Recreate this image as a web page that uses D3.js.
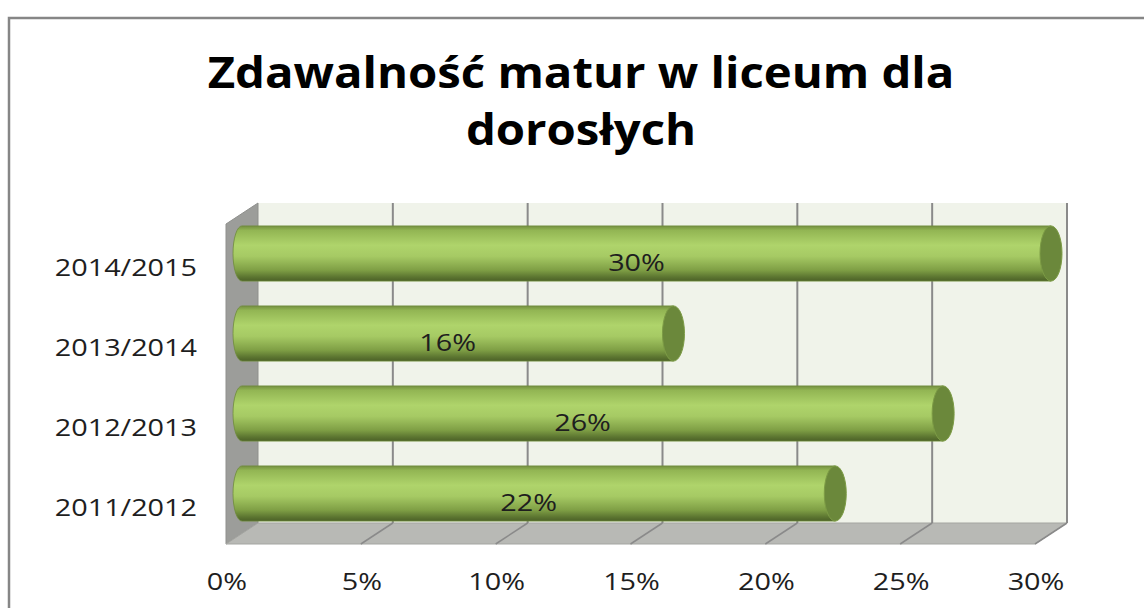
<!DOCTYPE html>
<html>
<head>
<meta charset="utf-8">
<script src="https://cdn.jsdelivr.net/npm/d3@7"></script>
<style>
  body { margin: 0; background: #fff; }
  text { font-family: "Open Sans", "DejaVu Sans", sans-serif; fill: #1e1e1e; }
</style>
</head>
<body>
<div id="chart"></div>
<script>
  // Chart data
  var titleLines = ['Zdawalność matur w liceum dla', 'dorosłych'];
  var categories = ['2014/2015', '2013/2014', '2012/2013', '2011/2012'];
  var values = [30, 16, 26, 22];
  var tickValues = [0, 5, 10, 15, 20, 25, 30];

  var W = 1144, H = 608;
  var depthX = -32, depthY = 21;     // 3D offset from back wall to front edge
  var stretch = 1.2;                 // text is a bit wider than the font

  var svg = d3.select('#chart').append('svg:svg')
      .attr('width', W).attr('height', H);

  // Outer frame (runs off the right and bottom of the picture)
  svg.append('svg:rect').attr('x', 9).attr('y', 18)
      .attr('width', W + 20).attr('height', H + 20)
      .attr('fill', 'none').attr('stroke', '#868686').attr('stroke-width', 2.5);

  // Title
  svg.selectAll('text.title').data(titleLines).enter().append('svg:text')
      .attr('class', 'title')
      .attr('transform', function(d, i) { return 'translate(581,' + (88 + i * 57) + ') scale(1.1,1)'; })
      .attr('text-anchor', 'middle')
      .style('font-weight', 'bold').style('font-size', '43px').style('fill', '#000')
      .text(function(d) { return d; });

  // Scales on the back wall
  var x = d3.scaleLinear().domain([0, 30]).range([258, 1067]);
  var y = d3.scaleBand().domain(categories).range([203, 523]).paddingInner(0.31).paddingOuter(0.155);
  var wallTop = 203, wallBottom = 523;

  var defs = svg.append('svg:defs');
  var grad = defs.append('svg:linearGradient').attr('id', 'cyl')
      .attr('x1', 0).attr('y1', 0).attr('x2', 0).attr('y2', 1);
  [['0%', '#748f40'], ['8%', '#92b553'], ['35%', '#afd46b'], ['55%', '#a6ca64'],
   ['80%', '#7f9f45'], ['93%', '#5b7430'], ['100%', '#4c6127']].forEach(function(s) {
    grad.append('svg:stop').attr('offset', s[0]).attr('stop-color', s[1]);
  });

  // Back wall
  svg.append('svg:rect').attr('x', x(0)).attr('y', wallTop)
      .attr('width', x(30) - x(0)).attr('height', wallBottom - wallTop)
      .attr('fill', '#f0f3ea');

  // Left side wall
  svg.append('svg:path')
      .attr('d', 'M' + x(0) + ',' + wallTop + 'L' + (x(0) + depthX) + ',' + (wallTop + depthY) +
                 'L' + (x(0) + depthX) + ',' + (wallBottom + depthY) + 'L' + x(0) + ',' + wallBottom + 'Z')
      .attr('fill', '#9c9d9a').attr('stroke', '#8f908d').attr('stroke-width', 1);

  // Floor
  svg.append('svg:path')
      .attr('d', 'M' + x(0) + ',' + wallBottom + 'L' + x(30) + ',' + wallBottom +
                 'L' + (x(30) + depthX) + ',' + (wallBottom + depthY) +
                 'L' + (x(0) + depthX) + ',' + (wallBottom + depthY) + 'Z')
      .attr('fill', '#b8b9b5').attr('stroke', '#a4a5a1').attr('stroke-width', 1);

  // Grid lines on back wall and floor
  svg.selectAll('line.grid').data(tickValues.slice(1)).enter().append('svg:line')
      .attr('class', 'grid')
      .attr('x1', function(d) { return x(d); }).attr('x2', function(d) { return x(d); })
      .attr('y1', wallTop).attr('y2', wallBottom)
      .attr('stroke', '#8a8a8a').attr('stroke-width', 2);
  svg.selectAll('line.floorgrid').data(tickValues.slice(1)).enter().append('svg:line')
      .attr('class', 'floorgrid')
      .attr('x1', function(d) { return x(d); }).attr('y1', wallBottom)
      .attr('x2', function(d) { return x(d) + depthX; }).attr('y2', wallBottom + depthY)
      .attr('stroke', '#8a8a8a').attr('stroke-width', 1.5);

  // Cylinders sit in the middle of the depth
  var midX = depthX / 2, midY = depthY / 2;
  var rx = 11;
  var bars = svg.selectAll('g.bar').data(values).enter().append('svg:g').attr('class', 'bar');

  bars.append('svg:path')
      .attr('d', function(d, i) {
        var y0 = y(categories[i]) + midY, h = y.bandwidth(), ry = h / 2;
        var x0 = x(0) + midX, x1 = x(d) + midX;
        return 'M' + x1 + ',' + y0 + 'L' + x0 + ',' + y0 +
               'A' + (rx - 2) + ',' + ry + ' 0 0 0 ' + x0 + ',' + (y0 + h) +
               'L' + x1 + ',' + (y0 + h) + 'Z';
      })
      .attr('fill', 'url(#cyl)').attr('stroke', '#6f8b3b').attr('stroke-width', 0.8);

  bars.append('svg:ellipse')
      .attr('cx', function(d) { return x(d) + midX; })
      .attr('cy', function(d, i) { return y(categories[i]) + midY + y.bandwidth() / 2; })
      .attr('rx', rx).attr('ry', y.bandwidth() / 2)
      .attr('fill', '#6b883b').attr('stroke', '#7c9b45').attr('stroke-width', 1);

  // Value labels
  bars.append('svg:text')
      .attr('transform', function(d, i) {
        var cx = (x(0) + x(d)) / 2 + midX - 10;
        var cy = y(categories[i]) + midY + y.bandwidth() / 2 + 17;
        return 'translate(' + cx + ',' + cy + ') scale(' + stretch + ',1)';
      })
      .attr('text-anchor', 'middle').style('font-size', '24px')
      .text(function(d) { return d + '%'; });

  // Category labels
  svg.selectAll('text.cat').data(categories).enter().append('svg:text')
      .attr('class', 'cat')
      .attr('transform', function(d) {
        return 'translate(197,' + (y(d) + y.bandwidth() / 2 + 33) + ') scale(' + stretch + ',1)';
      })
      .attr('text-anchor', 'end').style('font-size', '24px')
      .text(function(d) { return d; });

  // Value axis along the front edge of the floor
  svg.selectAll('text.tick').data(tickValues).enter().append('svg:text')
      .attr('class', 'tick')
      .attr('transform', function(d) {
        return 'translate(' + (x(d) + depthX + 1) + ',590) scale(' + stretch + ',1)';
      })
      .attr('text-anchor', 'middle').style('font-size', '24px')
      .text(function(d) { return d + '%'; });
</script>
</body>
</html>
